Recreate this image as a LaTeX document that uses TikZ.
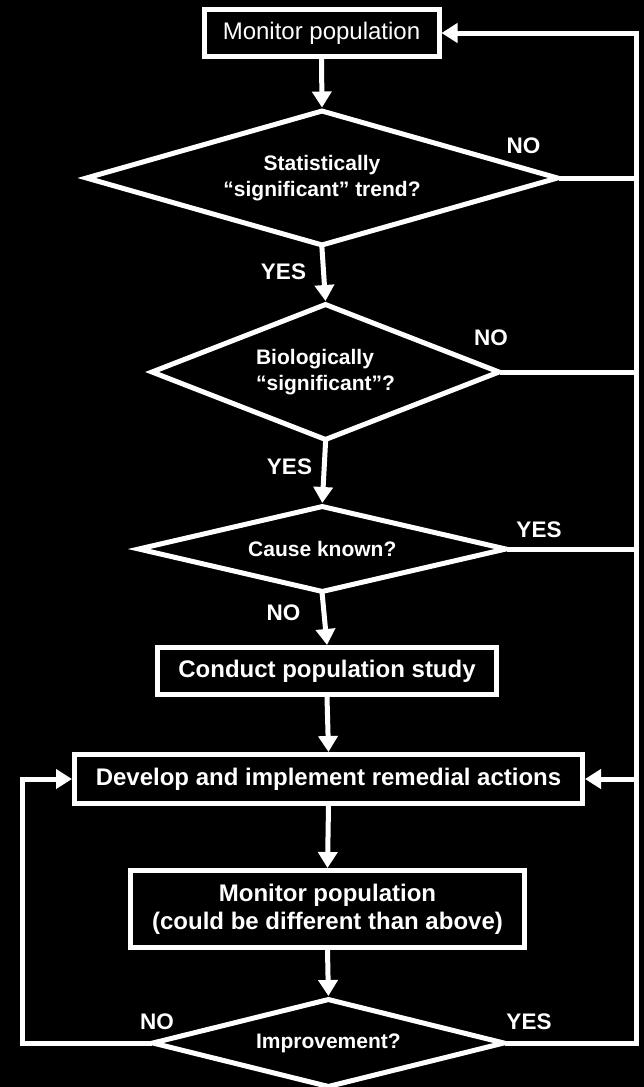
\documentclass[tikz,border=0pt]{standalone}
\usepackage{fontspec}
\setmainfont{Liberation Sans}
\usetikzlibrary{shapes.geometric,arrows.meta}

\begin{document}
\begin{tikzpicture}[x=1pt,y=-1pt,line cap=rect]
  \tikzstyle{box}=[rectangle,draw=white,line width=5pt,text=white,font=\fontsize{24}{28}\selectfont\bfseries,align=center,inner sep=0pt];
  \tikzstyle{decision}=[diamond,draw=white,line width=5pt,text=white,font=\fontsize{21}{25.5}\selectfont\bfseries,align=center,inner sep=0pt];
  \tikzstyle{answer}=[text=white,font=\fontsize{22.5}{26}\selectfont\bfseries,inner sep=0pt];
  \tikzstyle{link}=[draw=white,line width=5pt];
  \tikzstyle{flow}=[link,-{Triangle[length=16pt,width=19pt]}];

  % black page
  \fill[black] (0,0) rectangle (644,1087);
  \useasboundingbox (0,0) rectangle (644,1087);

  % boxes and decisions
  \node[box,font=\fontsize{24}{28}\selectfont,minimum width=235pt,minimum height=47pt] (monitorTop) at (321.5,33) {Monitor population};
  \node[decision,aspect=3.48,minimum width=473pt,minimum height=136pt] (statTrend) at (322,178) {Statistically\\“significant” trend?};
  \node[decision,aspect=2.55,minimum width=349pt,minimum height=137pt,align=left] (bioSig) at (325.5,372) {Biologically\\“significant”?};
  \node[decision,aspect=4.24,minimum width=369pt,minimum height=87pt] (causeKnown) at (322.3,549) {Cause known?};
  \node[box,minimum width=339pt,minimum height=47pt] (popStudy) at (327,671) {Conduct population study};
  \node[box,minimum width=508pt,minimum height=49pt] (remedial) at (328.5,779) {Develop and implement remedial actions};
  \node[box,minimum width=394pt,minimum height=77pt] (monitorAgain) at (327.5,909) {Monitor population\\(could be different than above)};
  \node[decision,aspect=3.97,minimum width=353pt,minimum height=89pt] (improve) at (328.4,1043) {Improvement?};

  % side rails
  \coordinate (railR) at (636,0);
  \coordinate (railL) at (22.5,0);

  % main line down
  \draw[flow] (monitorTop.south) -- (statTrend.north);
  \draw[flow] (statTrend.south) -- (bioSig.north);
  \draw[flow] (bioSig.south) -- (causeKnown.north);
  \draw[flow] (causeKnown.south) -- (popStudy.north);
  \draw[flow] (popStudy.south) -- (remedial.north);
  \draw[flow] (remedial.south) -- (monitorAgain.north);
  \draw[flow] (monitorAgain.south) -- (improve.north);

  % loop back on the right
  \draw[flow] (improve.east) -- (improve.east -| railR) -- (monitorTop.east -| railR) -- (monitorTop.east);
  \draw[link] (statTrend.east) -- (statTrend.east -| railR);
  \draw[link] (bioSig.east) -- (bioSig.east -| railR);
  \draw[link] (causeKnown.east) -- (causeKnown.east -| railR);
  \draw[flow] (remedial.east -| railR) -- (remedial.east);

  % loop back on the left
  \draw[flow] (improve.west) -- (improve.west -| railL) -- (remedial.west -| railL) -- (remedial.west);

  % answers
  \node[answer] (noStat) at (523.5,146) {NO};
  \node[answer] (yesStat) at (283.5,272) {YES};
  \node[answer] (noBio) at (491,337.5) {NO};
  \node[answer] (yesBio) at (289.5,467) {YES};
  \node[answer] (yesCause) at (539,529.5) {YES};
  \node[answer] (noCause) at (283.4,613) {NO};
  \node[answer] (noImprove) at (157,1021.7) {NO};
  \node[answer] (yesImprove) at (529,1021.7) {YES};
\end{tikzpicture}
\end{document}
